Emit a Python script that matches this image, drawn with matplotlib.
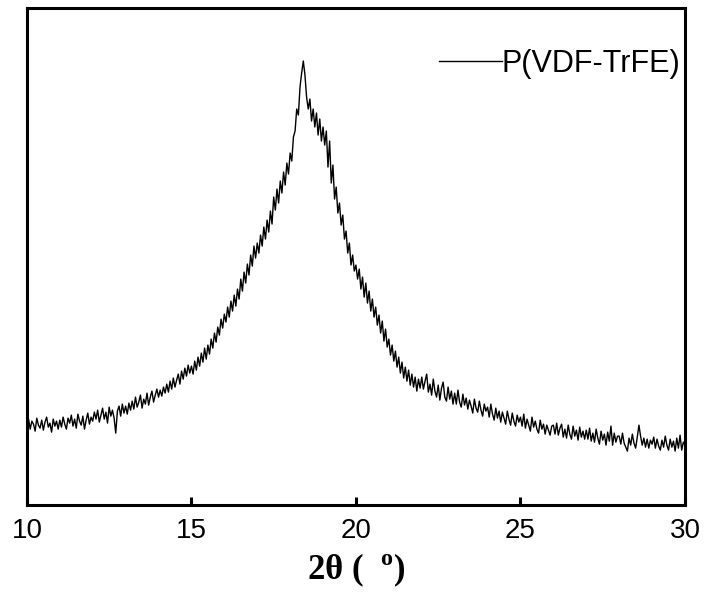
import numpy as np
import matplotlib
matplotlib.use('Agg')
import matplotlib.pyplot as plt

plt.rcParams['font.family'] = ['Liberation Sans', 'DejaVu Sans']
plt.rcParams['mathtext.fontset'] = 'custom'
plt.rcParams['mathtext.rm'] = 'Liberation Serif'
plt.rcParams['mathtext.bf'] = 'Liberation Serif:bold'

# 2theta scan from 10 to 30 deg, step 0.05 (intensity in arbitrary units)
theta_start, theta_step = 10.0, 0.05
intensity = [
    78, 86, 76, 84, 81, 74, 87, 80, 77, 85, 75, 83, 88, 78, 82, 73, 86, 79, 84, 76,            # 10
    85, 78, 88, 81, 76, 87, 82, 90, 79, 86, 77, 91, 84, 80, 89, 76, 85, 92, 81, 88,            # 11
    84, 93, 86, 95, 83, 90, 97, 86, 93, 82, 98, 89, 95, 87, 72, 94, 99, 89, 101, 92,           # 12
    99, 91, 102, 95, 104, 96, 108, 98, 103, 110, 97, 106, 101, 112, 100, 108, 114, 103, 110, 116,  # 13
    108, 115, 109, 118, 112, 121, 113, 124, 116, 127, 118, 125, 131, 121, 134, 126, 137, 129, 140, 132,  # 14
    139, 131, 144, 135, 148, 139, 152, 143, 157, 146, 160, 151, 166, 157, 172, 163, 178, 170, 186, 177,  # 15
    191, 183, 198, 188, 204, 194, 210, 199, 216, 206, 226, 214, 233, 222, 241, 230, 250, 239, 259, 247,  # 16
    262, 252, 270, 259, 278, 266, 285, 273, 294, 281, 308, 295, 316, 302, 324, 312, 333, 320, 342, 331,  # 17
    352, 344, 368, 374, 396, 390, 418, 432, 444, 430, 408, 396, 406, 384, 396, 378, 392, 370, 386, 364,  # 18
    378, 360, 374, 338, 364, 322, 340, 306, 318, 292, 302, 280, 290, 266, 274, 252, 262, 240, 250, 234,  # 19
    240, 226, 236, 216, 228, 208, 222, 202, 214, 194, 206, 188, 198, 180, 190, 172, 184, 164, 176, 158,  # 20
    166, 150, 160, 144, 154, 138, 148, 132, 143, 127, 138, 124, 135, 120, 131, 118, 128, 114, 126, 117,  # 21
    128, 116, 124, 131, 113, 121, 110, 126, 114, 108, 120, 105, 117, 123, 108, 104, 118, 106, 114, 101,  # 22
    112, 101, 115, 103, 98, 111, 100, 107, 96, 105, 99, 92, 106, 97, 93, 104, 95, 89, 101, 94,     # 23
    98, 88, 101, 91, 85, 97, 87, 94, 83, 93, 87, 81, 94, 86, 80, 92, 84, 79, 90, 83,            # 24
    88, 79, 91, 77, 86, 80, 74, 88, 78, 84, 76, 72, 85, 76, 81, 71, 80, 75, 70, 79,             # 25
    80, 71, 82, 70, 77, 81, 68, 76, 67, 80, 71, 66, 79, 69, 75, 65, 78, 68, 74, 66,             # 26
    75, 66, 77, 64, 72, 63, 76, 67, 61, 74, 65, 71, 60, 73, 64, 79, 60, 72, 63, 69,             # 27
    69, 61, 72, 62, 58, 54, 67, 60, 71, 62, 57, 68, 80, 69, 60, 67, 58, 66, 57, 65,             # 28
    61, 68, 57, 66, 59, 55, 65, 58, 69, 60, 55, 66, 58, 64, 54, 67, 57, 70, 55, 63,             # 29
    60,
]
two_theta = theta_start + theta_step * np.arange(len(intensity))
xticks = [10, 15, 20, 25, 30]

fig = plt.figure(figsize=(7.08, 5.95), dpi=100)
ax = fig.add_axes([0.038, 0.151, 0.9295, 0.8356])

ax.plot(two_theta, intensity, color='black', linewidth=1.0, label='P(VDF-TrFE)')

ax.set_xlim(10, 30)
ax.set_ylim(0, 497)
ax.set_xticks(xticks)
ax.set_xticklabels([str(t) for t in xticks])
ax.set_yticks([])
ax.tick_params(axis='x', direction='in', length=6, width=2.2, labelsize=20, pad=9)
for s in ax.spines.values():
    s.set_linewidth(2.2)

ax.set_xlabel(r'2θ (  $^{\mathbf{o}}$)', fontsize=25, fontfamily='Liberation Serif',
              fontweight='bold', labelpad=6)

ax.legend(loc='upper right', bbox_to_anchor=(0.993, 0.918), frameon=False,
          fontsize=22, handlelength=2.05, handletextpad=0.0,
          borderpad=0, borderaxespad=0.0)

fig.savefig('out.png', dpi=100)
